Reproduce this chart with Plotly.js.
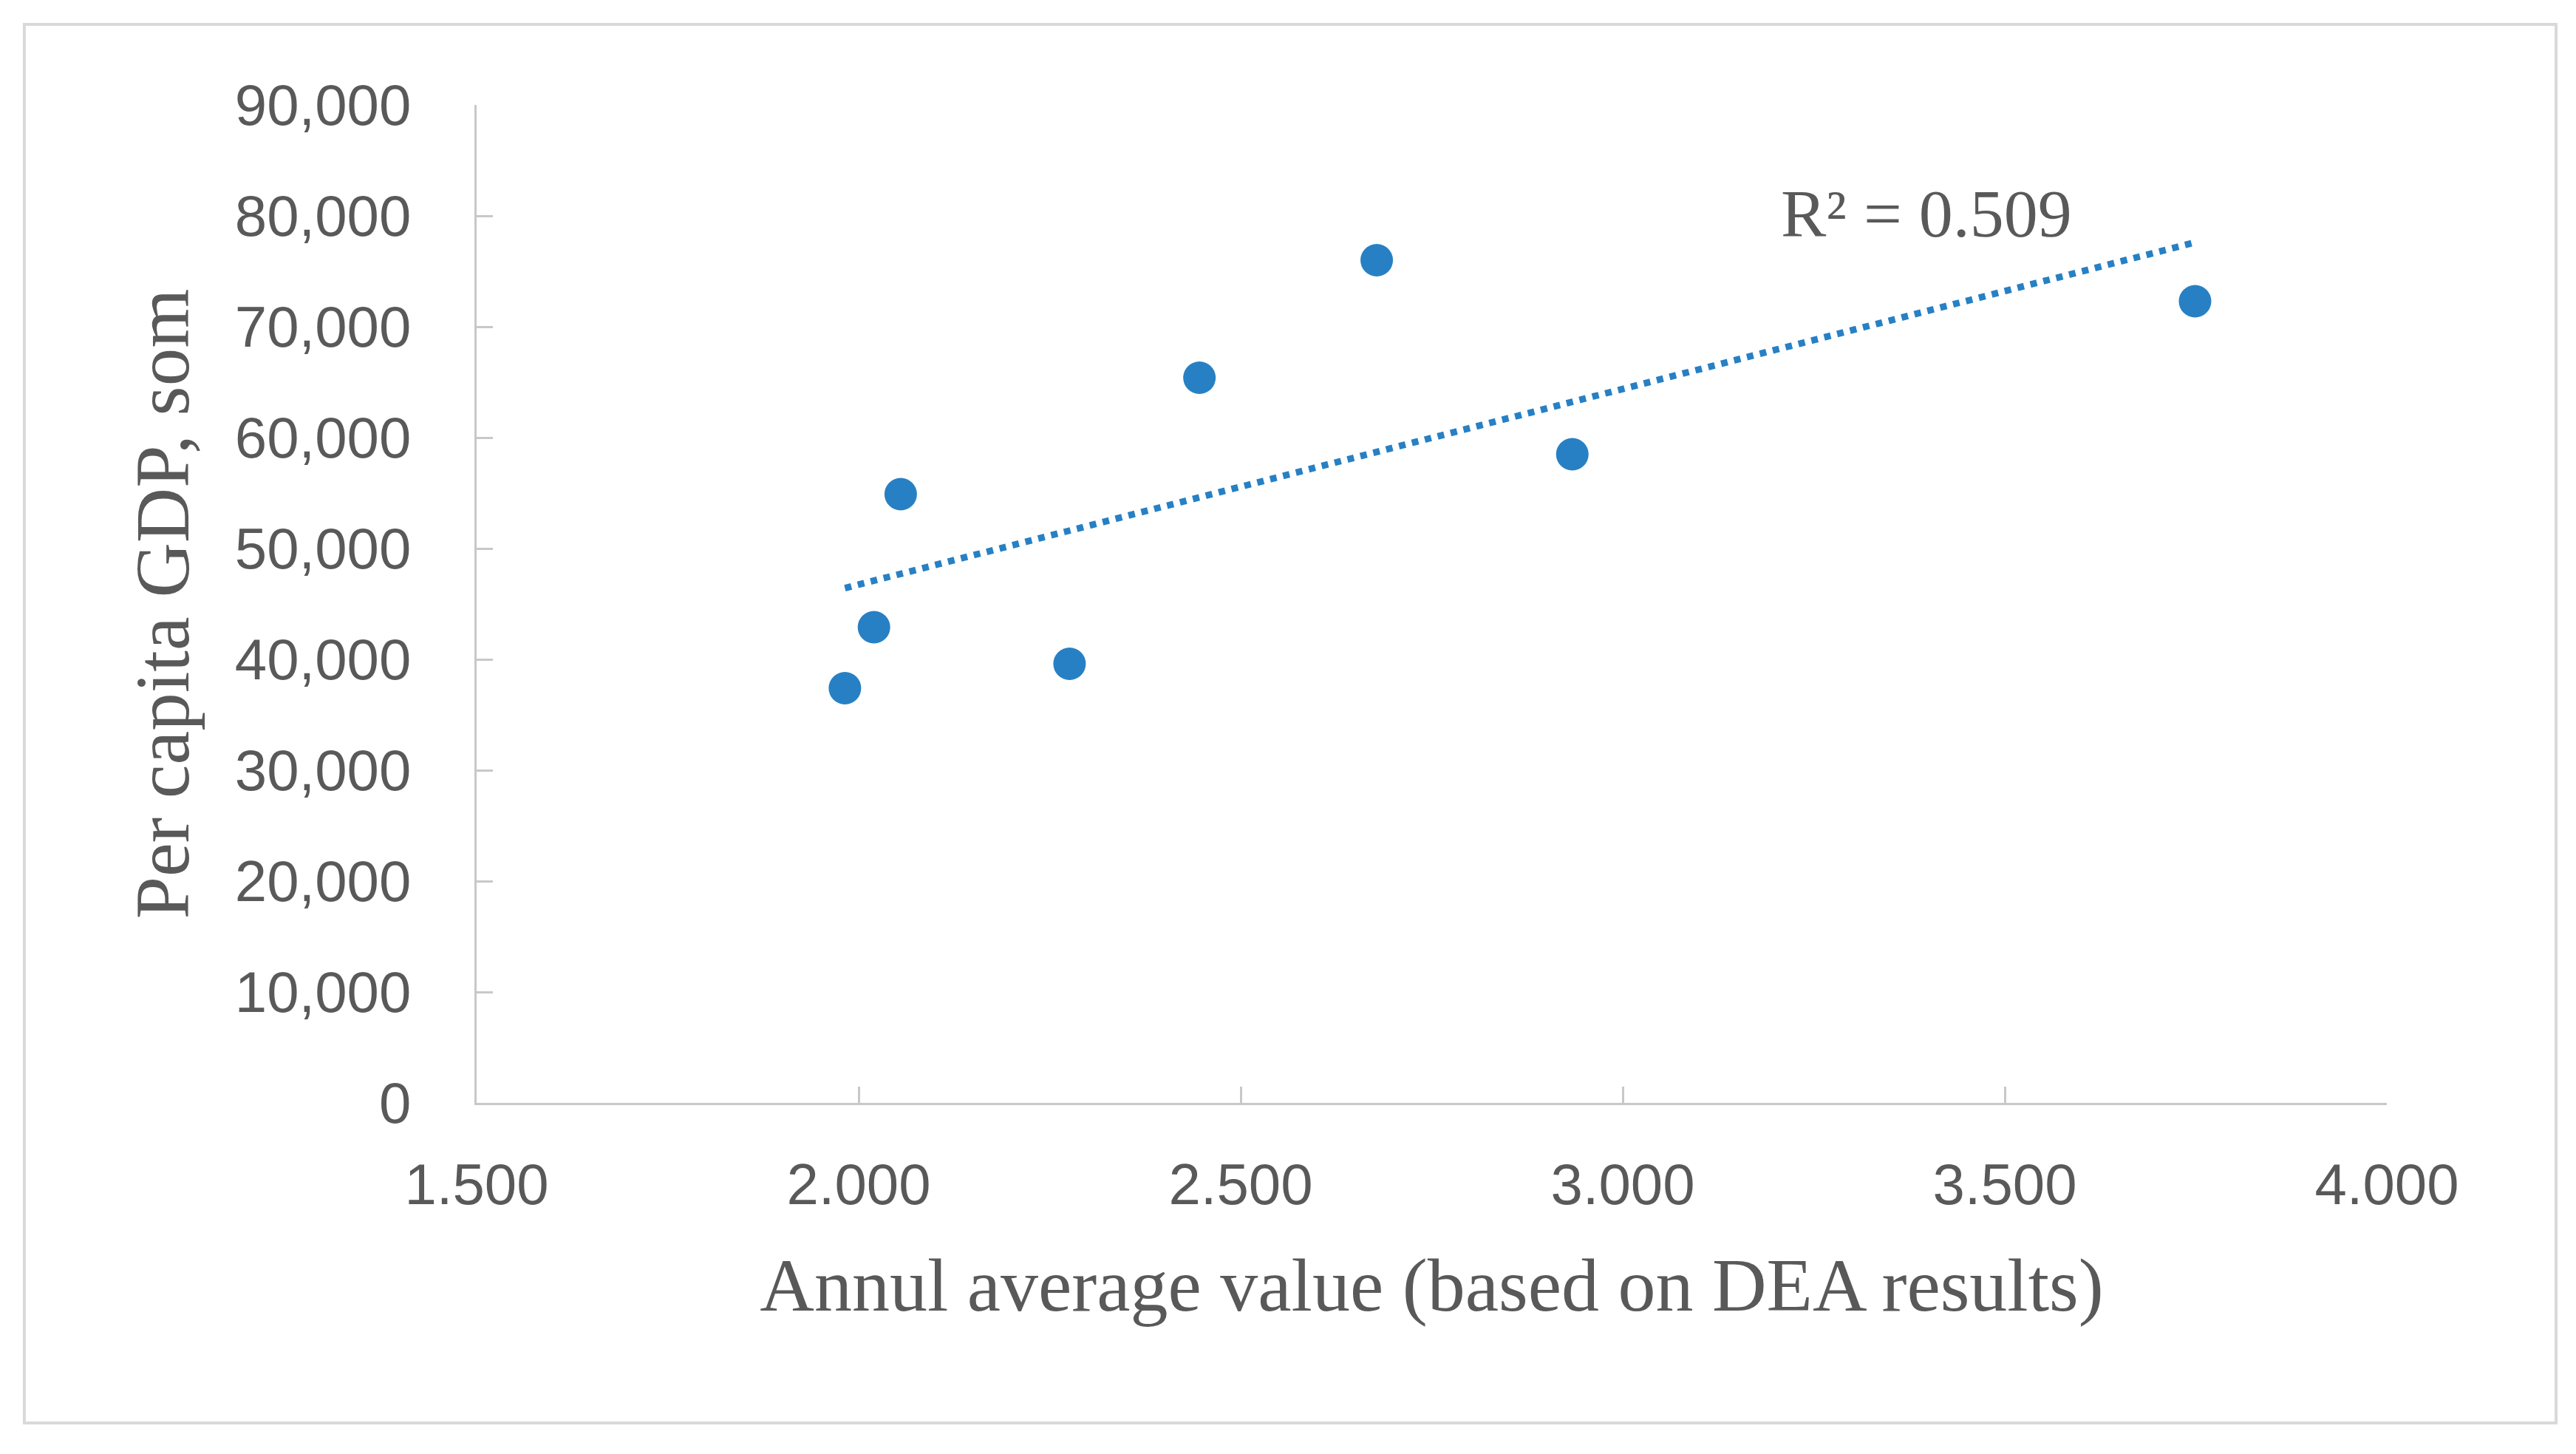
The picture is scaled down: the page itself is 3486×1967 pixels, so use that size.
<!DOCTYPE html>
<html>
<head>
<meta charset="utf-8">
<script src="https://cdn.plot.ly/plotly-3.0.1.min.js"></script>
<style>
html,body{margin:0;padding:0;background:#fff;}
#chart{width:3486px;height:1967px;}
</style>
</head>
<body>
<div id="chart"></div>
<script>
// Data
const dea = [1.982, 2.020, 2.055, 2.276, 2.446, 2.678, 2.934, 3.749];
const gdp = [37400, 42900, 54900, 39600, 65400, 76000, 58500, 72300];
const xTicks = [1.5, 2.0, 2.5, 3.0, 3.5, 4.0];
const yTicks = [0, 10000, 20000, 30000, 40000, 50000, 60000, 70000, 80000, 90000];
const r2Label = "R² = 0.509";

// Linear trendline (least squares) over the data range
const n = dea.length;
const mx = dea.reduce((a,b)=>a+b,0)/n;
const my = gdp.reduce((a,b)=>a+b,0)/n;
let sxy = 0, sxx = 0;
for (let i=0;i<n;i++){ sxy += (dea[i]-mx)*(gdp[i]-my); sxx += (dea[i]-mx)**2; }
const slope = sxy/sxx, icpt = my - slope*mx;
const xMin = Math.min(...dea), xMax = Math.max(...dea);
const trendX = [xMin, xMax];
const trendY = trendX.map(x => icpt + slope*x);

const blue = '#2780c4';
const grey = '#595959';
const axisGrey = '#c8c8c8';

const traces = [
  {x: trendX, y: trendY, mode:'lines', type:'scatter',
   line:{color: blue, width: 9, dash:'dot'}, hoverinfo:'skip', showlegend:false},
  {x: dea, y: gdp, mode:'markers', type:'scatter',
   marker:{color: blue, size: 44}, showlegend:false}
];

const layout = {
  width: 3486, height: 1967,
  paper_bgcolor:'#fff', plot_bgcolor:'#fff',
  margin:{l:645, r:256, t:142, b:475, pad:0},
  showlegend:false,
  xaxis:{
    range:[1.5, 4.0], tickvals: xTicks, tickformat:'.3f',
    showgrid:false, zeroline:false, showline:true, linecolor: axisGrey, linewidth:3,
    ticks:'inside', ticklen:22, tickwidth:3, tickcolor: axisGrey,
    tickfont:{family:'Liberation Sans, Arial, sans-serif', size:78, color:grey},
    ticklabelstandoff: 40,
    title:{text:'Annul average value (based on DEA results)', standoff: 58,
      font:{family:'Liberation Serif, Times New Roman, serif', size:102, color:grey}},
    automargin:false
  },
  yaxis:{
    range:[0, 90000], tickvals: yTicks, tickformat:',.0f',
    showgrid:false, zeroline:false, showline:true, linecolor: axisGrey, linewidth:3,
    ticks:'inside', ticklen:22, tickwidth:3, tickcolor: axisGrey,
    tickfont:{family:'Liberation Sans, Arial, sans-serif', size:78, color:grey},
    ticklabelstandoff: 70,
    title:{text:'Per capita GDP, som', standoff: 28,
      font:{family:'Liberation Serif, Times New Roman, serif', size:103, color:grey}},
    automargin:false
  },
  annotations:[
    {x:3.397, y:80200, xref:'x', yref:'y', text:r2Label, showarrow:false,
     font:{family:'Liberation Serif, Times New Roman, serif', size:92, color:grey}}
  ],
  shapes:[
    {type:'rect', xref:'paper', yref:'paper', x0:-0.2368, x1:1.0886, y0:-0.3207, y1:1.0807,
     line:{color:'#d9d9d9', width:4}, fillcolor:'rgba(0,0,0,0)', layer:'below'}
  ]
};

Plotly.newPlot('chart', traces, layout, {displayModeBar:false, staticPlot:true});
</script>
</body>
</html>
